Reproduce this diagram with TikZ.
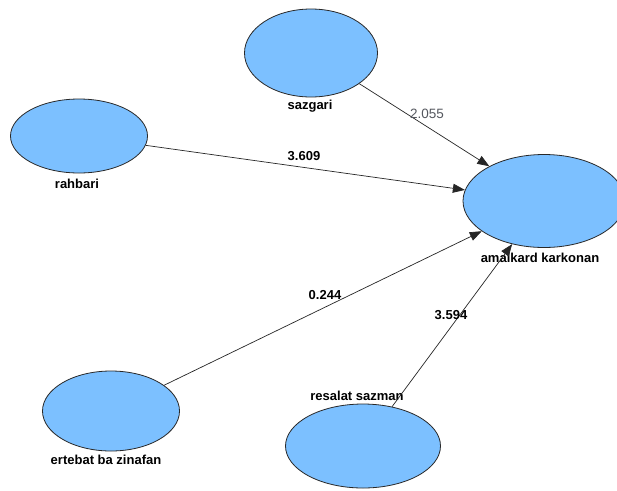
\documentclass[tikz,border=0pt]{standalone}
\usepackage{fontspec}
\setmainfont{Liberation Sans}
\usetikzlibrary{shapes.geometric,arrows.meta}
\definecolor{lvfill}{RGB}{124,192,255}
\definecolor{lvedge}{RGB}{40,40,40}
\definecolor{pathgray}{RGB}{85,88,95}
\begin{document}
\begin{tikzpicture}[x=1pt,y=-1pt,
  lv/.style={ellipse,draw=lvedge,line width=0.8pt,fill=lvfill,inner sep=0pt},
  lvname/.style={font=\fontsize{13}{15}\selectfont\bfseries,text=black,inner sep=0pt},
  coef/.style={font=\fontsize{13}{15}\selectfont\bfseries,text=black,inner sep=0pt},
  coefgray/.style={font=\fontsize{13.5}{15}\selectfont,text=pathgray,inner sep=0pt},
  path/.style={draw=black!85,line width=0.7pt,-{Triangle[length=12pt,width=9pt]}}]
\useasboundingbox (0,0) rectangle (617,490);
\fill[white] (0,0) rectangle (617,490);
% latent variables
\node[lv,minimum width=133pt,minimum height=88pt] (sazgari) at (311,53) {};
\node[lv,minimum width=137pt,minimum height=74pt] (rahbari) at (79,136) {};
\node[lv,minimum width=162pt,minimum height=93pt] (amalkard) at (544,201) {};
\node[lv,minimum width=137pt,minimum height=80pt] (ertebat) at (111,411) {};
\node[lv,minimum width=155pt,minimum height=84pt] (resalat) at (363,446) {};
% names
\node[lvname] (nsazgari) at (310,106) {sazgari};
\node[lvname] (nrahbari) at (77,184) {rahbari};
\node[lvname] (namalkard) at (540,258) {amalkard karkonan};
\node[lvname] (nertebat) at (106,460) {ertebat ba zinafan};
\node[lvname] (nresalat) at (357,396) {resalat sazman};
% paths
\draw[path] (sazgari) -- (amalkard);
\draw[path] (rahbari) -- (amalkard);
\draw[path] (ertebat) -- (amalkard);
\draw[path] (resalat) -- (amalkard);
% coefficients
\node[coefgray] (c1) at (427,114) {2.055};
\node[coef] (c2) at (304,156) {3.609};
\node[coef] (c3) at (325,295) {0.244};
\node[coef] (c4) at (451,315) {3.594};
\end{tikzpicture}
\end{document}
